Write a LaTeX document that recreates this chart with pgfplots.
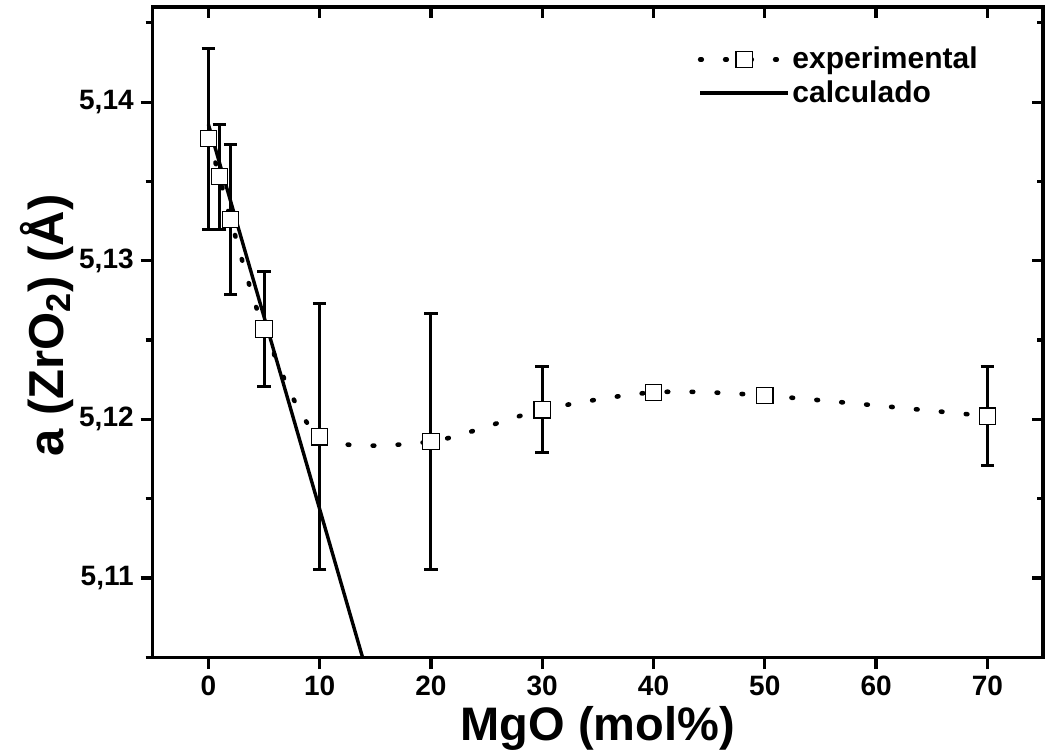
\documentclass[border=0pt]{standalone}
\usepackage{pgfplots}
\usepackage{pgfplotstable}
\pgfplotsset{compat=1.18}
\usepackage{fontspec}
\setmainfont{Liberation Sans}

\pgfplotstableread{
x y e
0 5.1377 0.0057
1 5.1353 0.0033
2 5.1326 0.0047
5 5.1257 0.0036
10 5.1189 0.0084
20 5.1186 0.0081
30 5.1206 0.0027
40 5.1217 0.0002
50 5.1215 0.0002
70 5.1202 0.0031
}\exptable

\pgfplotstableread{
x y
0 5.1386
13.85 5.105
}\calctable

\begin{document}
\begin{tikzpicture}
\pgfplotsset{
 common/.style={
  width=445pt, height=325pt, scale only axis,
  xmin=-5, xmax=75, ymin=5.105, ymax=5.146,
  xtick={0,10,20,30,40,50,60,70},
  ytick={5.11,5.12,5.13,5.14},
  minor ytick={5.105,5.115,5.125,5.135,5.145},
  scaled y ticks=false,
  axis line style={line width=1.6pt},
  tick style={line width=1.6pt, black},
  /pgf/number format/assume math mode=true,
 }
}
\begin{axis}[common, name=main,
  tick align=outside, xtick pos=left, ytick pos=left,
  major tick length=6pt, minor tick length=3.5pt,
  tick label style={font=\fontsize{14}{16}\selectfont\bfseries},
  y tick label style={/pgf/number format/fixed, /pgf/number format/fixed zerofill, /pgf/number format/precision=2, /pgf/number format/use comma},
  xlabel={MgO (mol\%)},
  ylabel={a (ZrO\textsubscript{2}) (Å)},
  label style={font=\fontsize{23.5}{28}\selectfont\bfseries},
  xlabel style={at={(axis description cs:0.5,-0.1277)}, anchor=base},
  ylabel style={at={(axis description cs:-0.1188,0.51)}, anchor=center, font=\fontsize{24.5}{29}\selectfont\bfseries},
  legend style={draw=none, fill=none, at={(rel axis cs:0.936,0.948)}, anchor=north east,
    font=\fontsize{15}{17}\selectfont\bfseries, nodes={inner sep=1pt}, row sep=2.3pt},
  legend cell align=left,
  legend image code/.code={\draw[mark repeat=2,mark phase=2,#1] plot coordinates {(0pt,0pt) (22pt,0pt) (44pt,0pt)};},
]
\addplot[black, line width=2.3pt, dash pattern=on 0.8pt off 11.7pt, line cap=round, smooth, tension=0.45,
  mark=square*, mark size=4.1pt, mark options={solid, fill=white, draw=black, line width=0.6pt},
  error bars/.cd, y dir=both, y explicit,
  error bar style={solid, line width=1.5pt, line cap=butt},
  error mark options={rotate=90, mark size=3.4pt, line width=1.5pt, solid}]
  table[x=x, y=y, y error=e] {\exptable};
\addlegendentry{experimental}
\addplot[black, line width=1.7pt, no marks] table[x=x, y=y] {\calctable};
\addlegendentry{calculado}
\end{axis}
\begin{axis}[common,
  tick align=inside, xtick pos=right, ytick pos=right,
  major tick length=5.5pt, minor tick length=3pt,
  xticklabels={}, yticklabels={}]
\end{axis}
\pgfresetboundingbox
\path ([shift={(-76.35pt,-49pt)}]main.south west) rectangle ([shift={(2pt,3.5pt)}]main.north east);
\end{tikzpicture}
\end{document}
